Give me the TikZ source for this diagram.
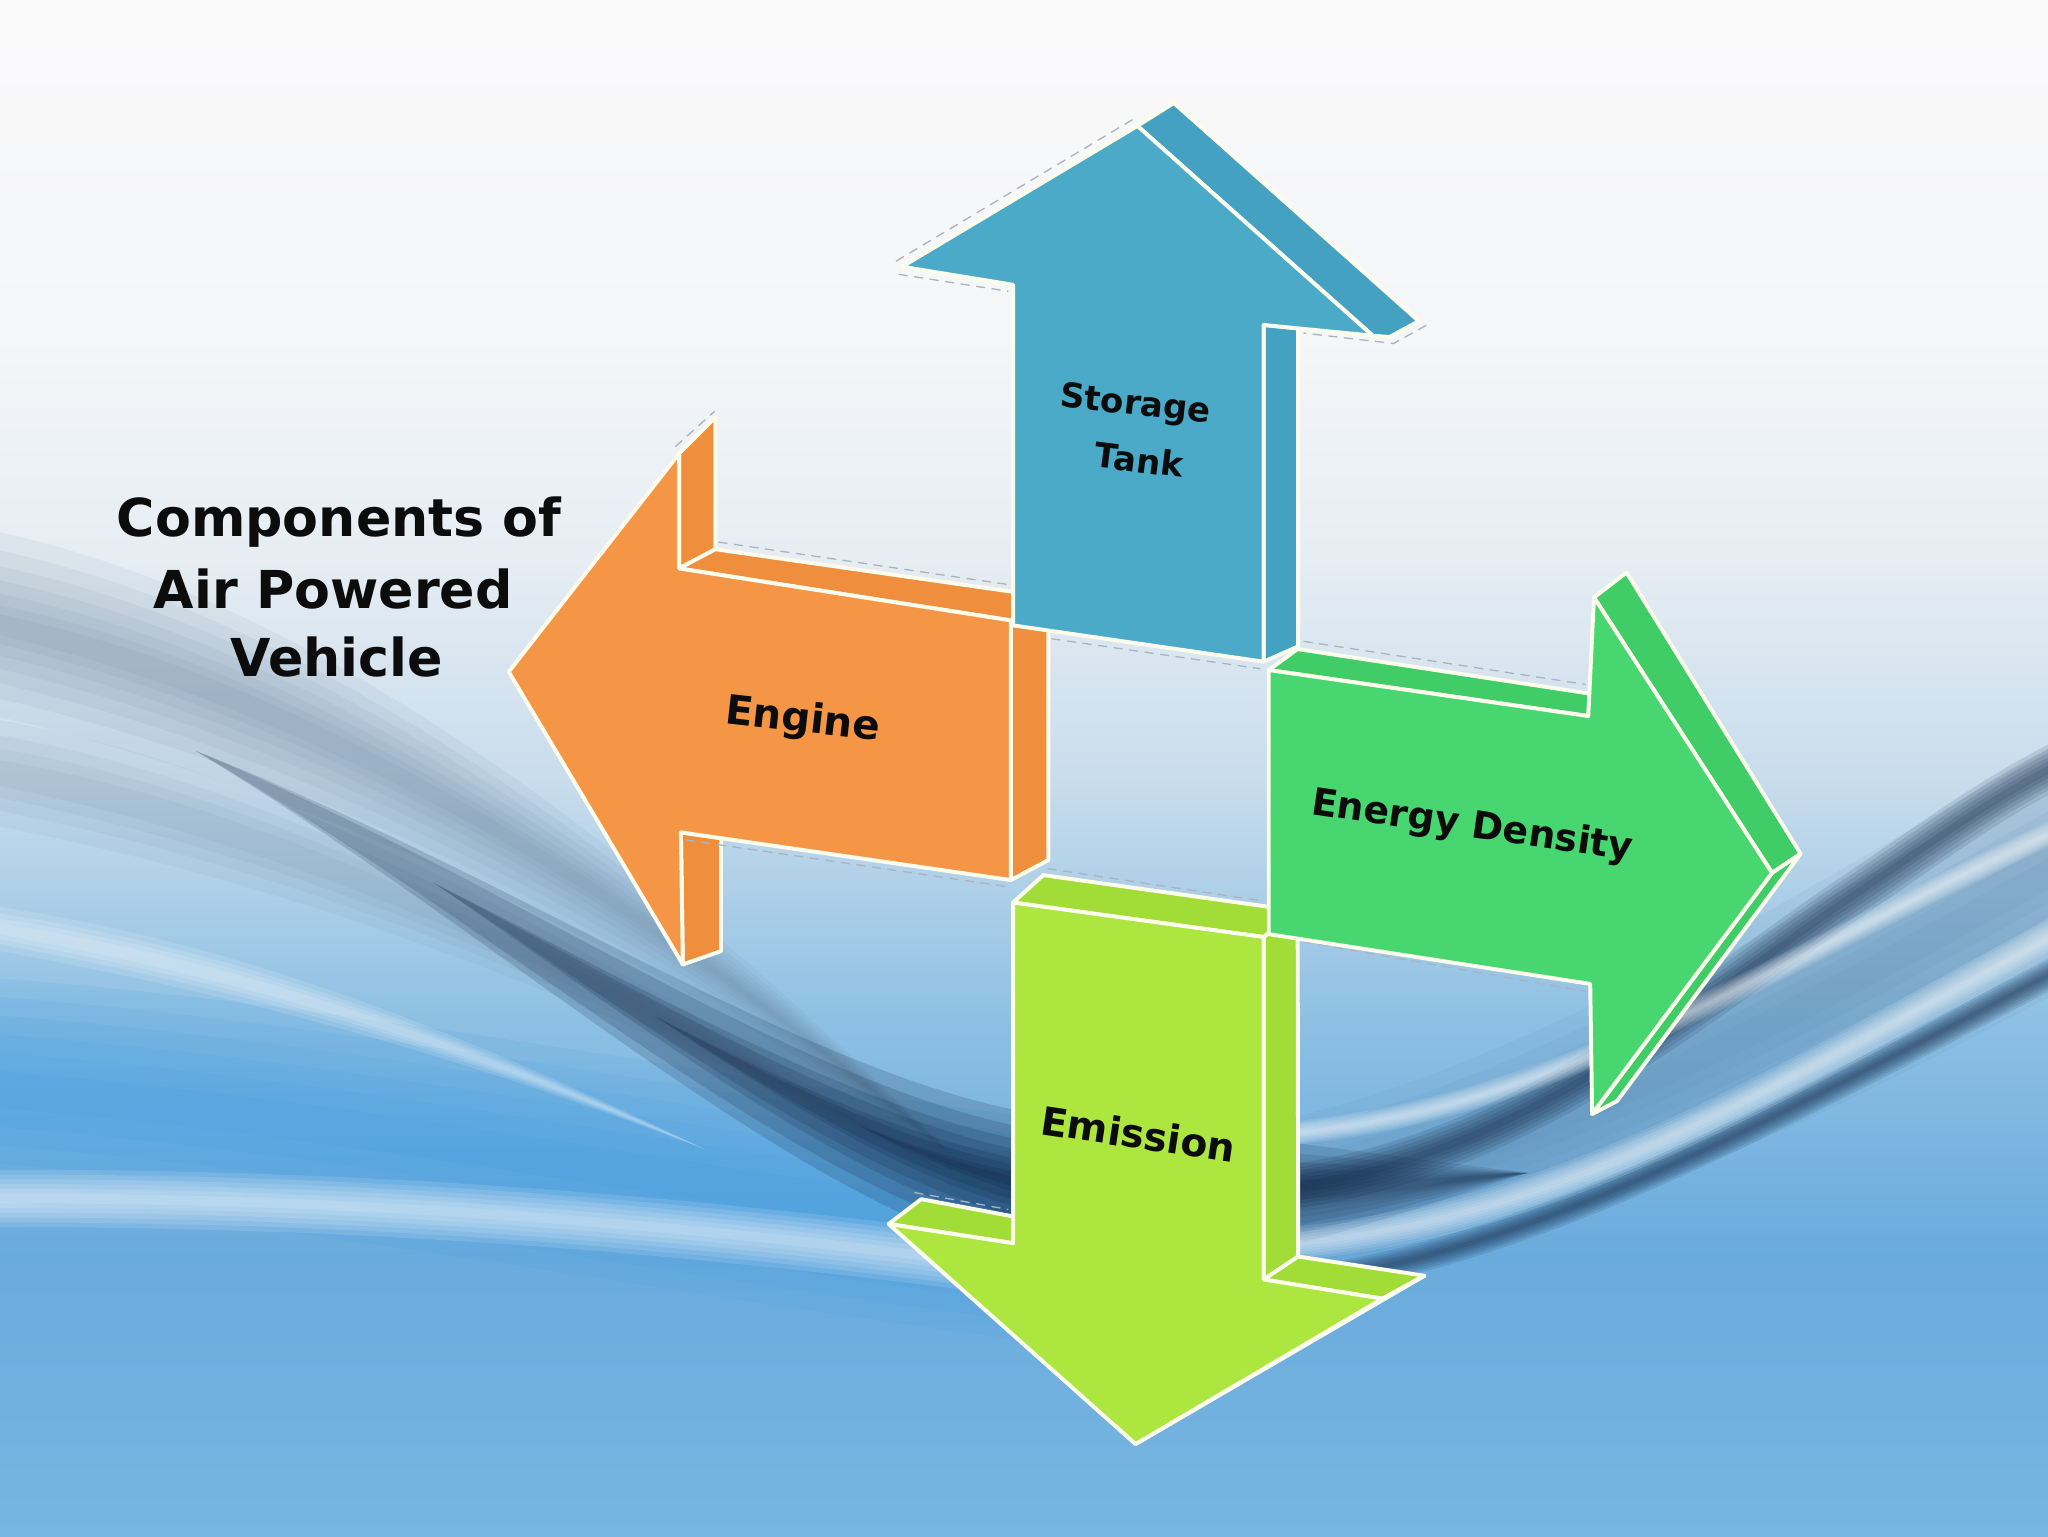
\documentclass[tikz,border=0pt]{standalone}
\usepackage{fontspec}
\setmainfont{DejaVu Sans}
\definecolor{edge}{RGB}{252,252,236}
\definecolor{bluef}{RGB}{75,170,200}
\definecolor{blues}{RGB}{68,161,193}
\definecolor{orgf}{RGB}{244,150,70}
\definecolor{orgs}{RGB}{239,142,60}
\definecolor{grnf}{RGB}{72,214,112}
\definecolor{grns}{RGB}{64,204,102}
\definecolor{limf}{RGB}{172,230,62}
\definecolor{lims}{RGB}{162,220,54}
\definecolor{navy}{RGB}{12,32,62}
\definecolor{haze}{RGB}{100,124,150}
\definecolor{steel}{RGB}{90,134,172}
\definecolor{bright}{RGB}{62,156,224}
\definecolor{ink}{RGB}{12,12,12}
\definecolor{glow}{RGB}{170,180,190}
\definecolor{bga}{RGB}{250,249,250}
\definecolor{bgb}{RGB}{244,246,248}
\definecolor{bgc}{RGB}{230,237,243}
\definecolor{bgd}{RGB}{200,220,236}
\definecolor{bge}{RGB}{142,192,227}
\definecolor{bgf}{RGB}{106,171,221}
\definecolor{bgg}{RGB}{120,182,225}
\newcommand\softline[3]{\foreach \k in {1,...,6}{\draw[#1,line width=#2*\k/6,opacity=0.12,line cap=butt] #3;}}
\tikzset{
  face/.style={draw=edge, line width=3pt, line join=round},
  lbl/.style={text=ink, inner sep=0pt, anchor=base},
  halo/.style={draw=glow, line width=1pt, dash pattern=on 7pt off 5pt},
}
\begin{document}
\begin{tikzpicture}[x=1pt,y=-1pt]
\useasboundingbox (0,0) rectangle (1568,1176);
% ---------- background ----------
\shade[top color=bga, bottom color=bgb] (0,0) rectangle (1568,261);
\shade[top color=bgb, bottom color=bgc] (0,260) rectangle (1568,431);
\shade[top color=bgc, bottom color=bgd] (0,430) rectangle (1568,601);
\shade[top color=bgd, bottom color=bge] (0,600) rectangle (1568,781);
\shade[top color=bge, bottom color=bgf] (0,780) rectangle (1568,961);
\shade[top color=bgf, bottom color=bgg] (0,960) rectangle (1568,1176);
% left grey haze
\foreach \t in {70,56,44,33,23,14,7}
  \fill[haze, opacity=0.08] (-40,{470-\t}) .. controls (150,{500-\t}) and (400,{610-\t*0.8}) .. (730,885)
     .. controls (400,{610+\t*0.8}) and (150,{510+\t}) .. (-40,{470+\t}) -- cycle;
\foreach \t in {40,28,18,9}
  \fill[haze, opacity=0.07] (-40,{585-\t}) .. controls (150,{610-\t}) and (360,{690-\t*0.7}) .. (720,895)
     .. controls (360,{690+\t*0.7}) and (150,{620+\t}) .. (-40,{585+\t}) -- cycle;
% bright blue glow, lower left
\softline{bright}{170}{(-60,830) .. controls (250,850) and (500,905) .. (820,945)}
% light streaks, left
\foreach \t in {16,11,7,3}
  \fill[white, opacity=0.13] (-40,{705-\t}) .. controls (150,{728-\t}) and (320,{785-\t*0.7}) .. (540,880)
     .. controls (320,{785+\t*0.7}) and (150,{738+\t}) .. (-40,{705+\t}) -- cycle;
\softline{white}{44}{(-60,918) .. controls (200,915) and (450,928) .. (760,968)}
% dark swoosh, left (tapered layers along one centre curve)
\foreach \t/\ax/\ay/\bx/\by/\cx/\cy in {
   54/150/575/400/700/620/880, 42/150/575/400/700/620/880,
   32/331.8/675.8/507.5/780.5/665/887, 24/331.8/675.8/507.5/780.5/665/887,
   17/501.3/777.9/610/842/710/894, 12/501.3/777.9/610/842/710/894,
   7/657.6/861.8/707.5/884.5/755/901, 3/657.6/861.8/707.5/884.5/755/901}
  \fill[navy, opacity=0.17] (\ax,\ay) .. controls (\bx,{\by-\t*0.5}) and (\cx,{\cy-\t}) .. (800,{908-\t})
     .. controls (950,{922-\t}) and (1050,{905-\t*0.4}) .. (1170,898)
     .. controls (1050,{912+\t*0.4}) and (950,{928+\t}) .. (800,{912+\t})
     .. controls (\cx,{\cy+\t}) and (\bx,{\by+\t*0.5}) .. (\ax,\ay) -- cycle;
% silvery bands, right
\foreach \t in {95,78,62,48,35,23,12}
  \fill[steel, opacity=0.09] (900,{930-\t*0.6}) .. controls (1150,{905-\t*0.7}) and (1350,{790-\t}) .. (1620,{640-\t})
     -- (1620,{640+\t}) .. controls (1350,{790+\t}) and (1150,{905+\t*0.7}) .. (900,{930+\t*0.6}) -- cycle;
\softline{navy}{34}{(950,912) .. controls (1150,902) and (1300,765) .. (1420,685) .. controls (1490,638) and (1540,598) .. (1620,565)}
\softline{navy}{22}{(950,985) .. controls (1150,975) and (1350,860) .. (1620,720)}
\softline{white}{26}{(960,955) .. controls (1200,938) and (1350,835) .. (1620,690)}
\softline{white}{18}{(960,870) .. controls (1200,855) and (1350,735) .. (1620,615)}
% ---------- orange arrow (Engine) ----------
\draw[halo] (517,342) -- (547,315);
\draw[halo] (550,415) -- (775,448);
\fill[orgs, face] (519.9,347.3) -- (547.7,319.4) -- (547.7,420.5) -- (519.9,435.2) -- cycle;
\fill[orgs, face] (519.9,435.2) -- (547.7,420.5) -- (802.6,457) -- (774,475) -- cycle;
\fill[orgs, face] (774,475) -- (802.6,457) -- (802.6,658.5) -- (774,673.8) -- cycle;
\fill[orgs, face] (521.3,637.3) -- (552,641.7) -- (552,728.2) -- (522.8,738.4) -- cycle;
\fill[orgf, face] (389.5,514.3) -- (519.9,347.3) -- (519.9,435.2) -- (774,475) -- (774,673.8) -- (521.3,637.3) -- (522.8,738.4) -- cycle;
\draw[halo] (525,643) -- (772,679);
% ---------- blue arrow (Storage Tank) ----------
\draw[halo] (686,200) -- (868,91);
\draw[halo] (688,210) -- (772,223);
\draw[halo] (1092,249) -- (1067,263) -- (998,255);
\fill[blues, face] (870.8,96.4) -- (898.7,78.8) -- (1086.2,245.8) -- (1064,258) -- (1051,257) -- cycle;
\fill[blues, face] (967.5,248.8) -- (993.9,251.5) -- (993.9,494.9) -- (967.5,506.6) -- cycle;
\fill[bluef, face] (870.8,96.4) -- (690.6,204.2) -- (775.6,218) -- (775.6,478.8) -- (967.5,506.6) -- (967.5,248.8) -- (1051,257) -- cycle;
\draw[halo] (805,489) -- (965,512);
% ---------- lime arrow (Emission) ----------
\draw[halo] (802,665) -- (968,690);
\draw[halo] (700,913) -- (772,926);
\fill[lims, face] (775.6,691) -- (798.8,670) -- (993.5,697.4) -- (967.5,717.4) -- cycle;
\fill[lims, face] (967.5,717.4) -- (993.5,697.4) -- (993.9,962) -- (967.5,979.6) -- cycle;
\fill[lims, face] (680.4,937.1) -- (705.3,918.1) -- (775.6,931.3) -- (775.6,951.8) -- cycle;
\fill[lims, face] (967.5,979.6) -- (993.9,962) -- (1090.6,976.7) -- (1058.4,994.3) -- cycle;
\fill[lims, face] (869.4,1105.6) -- (1058.4,994.3) -- (1090.6,976.7) -- cycle;
\fill[limf, face] (775.6,691) -- (967.5,717.4) -- (967.5,979.6) -- (1058.4,994.3) -- (869.4,1105.6) -- (680.4,937.1) -- (775.6,951.8) -- cycle;
% ---------- green arrow (Energy Density) ----------
\draw[halo] (998,491) -- (1214,524);
\draw[halo] (998,721) -- (1214,759);
\fill[grns, face] (971.4,513) -- (993.4,496.9) -- (1217,531) -- (1216,548.2) -- cycle;
\fill[grns, face] (1220.4,457.4) -- (1245.3,438.3) -- (1378.6,653.7) -- (1356.7,668.3) -- cycle;
\fill[grns, face] (1356.7,668.3) -- (1378.6,653.7) -- (1238,843) -- (1219,852.9) -- cycle;
\fill[grnf, face] (971.4,513) -- (1216,548.2) -- (1220.4,457.4) -- (1356.7,668.3) -- (1219,852.9) -- (1217.5,753.3) -- (971.4,715.2) -- cycle;
% ---------- labels ----------
\node[lbl, font={\fontsize{26}{30}\selectfont\bfseries}, rotate=-6] (st1) at (868.6,317.6) {Storage};
\node[lbl, font={\fontsize{26}{30}\selectfont\bfseries}, rotate=-7] (st2) at (871,361.6) {Tank};
\node[lbl, font={\fontsize{31}{36}\selectfont\bfseries}, rotate=-6.4] (eng) at (613.6,560.4) {Engine};
\node[lbl, font={\fontsize{29}{33}\selectfont\bfseries}, rotate=-8.2] (ed) at (1126,641) {Energy Density};
\node[lbl, font={\fontsize{30}{34}\selectfont\bfseries}, rotate=-8.5] (em) at (870,879.3) {Emission};
% ---------- title ----------
\node[lbl, font={\fontsize{40}{54}\selectfont\bfseries}] (t1) at (259.7,410.4) {Components of};
\node[lbl, font={\fontsize{40}{54}\selectfont\bfseries}] (t2) at (255.2,465.8) {Air Powered};
\node[lbl, font={\fontsize{40}{54}\selectfont\bfseries}] (t3) at (257.8,517.6) {Vehicle};
\end{tikzpicture}
\end{document}
